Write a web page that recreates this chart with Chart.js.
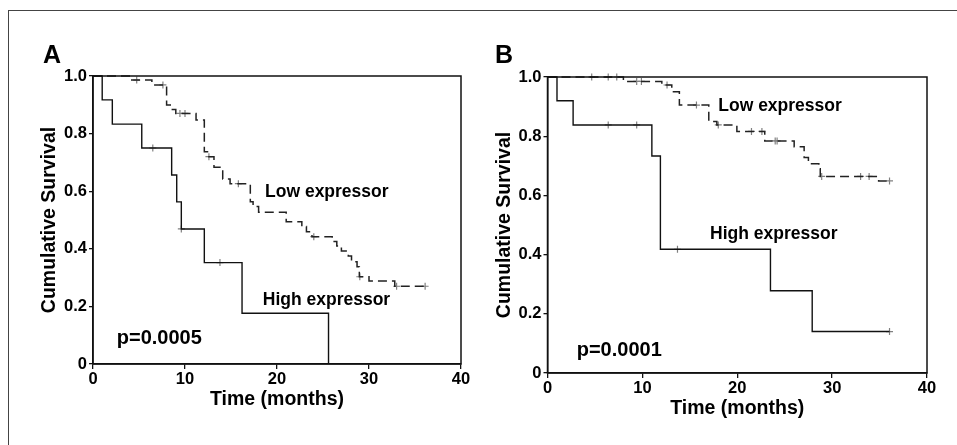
<!DOCTYPE html>
<html>
<head>
<meta charset="UTF-8">
<title>Cumulative Survival - Low vs High expressor</title>
<script src="https://cdn.jsdelivr.net/npm/chart.js"></script>
<style>
  body { margin: 0; background: white; }
  .page { position: relative; width: 957px; height: 445px; overflow: hidden; background: white; }
  .frame-top { position: absolute; left: 8px; top: 10px; width: 949px; border-top: 1.5px solid #444; }
  .frame-left { position: absolute; left: 8px; top: 10px; height: 435px; border-left: 1.5px solid #444; }
  .panel { position: absolute; top: 0; }
  #panelA { left: 0; }
  #panelB { left: 480px; }
</style>
</head>
<body>
<div class="page">
  <div class="frame-top"></div>
  <div class="frame-left"></div>
  <div class="panel" id="panelA"><canvas id="chartA" width="480" height="445"></canvas></div>
  <div class="panel" id="panelB"><canvas id="chartB" width="477" height="445"></canvas></div>
</div>
<script>
// ---- values ----
const xTickValues = [0, 10, 20, 30, 40];
const yTickValues = [0, 0.2, 0.4, 0.6, 0.8, 1.0];
const yTickLabels = ['0', '0.2', '0.4', '0.6', '0.8', '1.0'];

// Panel A, high expressor (solid line)
const aHighTimes = [0, 1.0, 2.1, 5.3, 8.55, 9.1, 9.6, 12.1, 16.2, 25.6];
const aHighSurv = [1.0, 0.917, 0.833, 0.75, 0.656, 0.563, 0.469, 0.352, 0.176, 0];
const aHighCensored = [6.5, 9.6, 13.8];

// Panel A, low expressor (dashed line)
const aLowTimes = [0, 4.1, 6.4, 8.0, 8.4, 9.0, 11.2, 12.1, 12.6, 13.15, 14.1, 14.9, 17.1, 17.4, 18.0,
  21.0, 22.7, 23.2, 23.8, 26.0, 26.5, 27.0, 27.75, 28.1, 28.7, 28.95, 30.0, 32.8, 36.1];
const aLowSurv = [1.0, 0.986, 0.969, 0.899, 0.884, 0.870, 0.847, 0.737, 0.72, 0.683, 0.642, 0.626, 0.563, 0.547, 0.527,
  0.494, 0.477, 0.459, 0.442, 0.425, 0.41, 0.392, 0.375, 0.355, 0.338, 0.303, 0.288, 0.27, 0.27];
const aLowCensored = [4.75, 7.6, 9.45, 10.0, 12.6, 15.8, 24.0, 29.0, 33.0, 36.1];

// Panel B, high expressor (solid line)
const bHighTimes = [0, 1.0, 2.7, 11.0, 11.9, 23.5, 27.9, 36.05];
const bHighSurv = [1.0, 0.92, 0.838, 0.733, 0.418, 0.278, 0.14, 0.14];
const bHighCensored = [6.4, 9.4, 13.7, 36.05];

// Panel B, low expressor (dashed line)
const bLowTimes = [0, 8.0, 12.05, 13.1, 13.9, 17.0, 17.85, 19.96, 22.9, 26.0, 27.05, 27.5, 28.6, 28.75, 34.9, 36.05];
const bLowSurv = [1.0, 0.985, 0.973, 0.95, 0.905, 0.85, 0.838, 0.816, 0.784, 0.764, 0.728, 0.707, 0.69, 0.664, 0.649, 0.649];
const bLowCensored = [4.66, 6.4, 7.3, 9.4, 9.9, 12.6, 15.7, 18.0, 21.5, 22.6, 24.0, 24.2, 28.9, 33.0, 33.9, 36.05];

// ---- helpers ----
function toPoints(times, surv) {
  return times.map((t, i) => ({ x: t, y: surv[i] }));
}

// survival level of a step curve at time t (used to put censor marks on the curve)
function survivalAt(times, surv, t) {
  let s = surv[0];
  for (let i = 0; i < times.length; i++) {
    if (times[i] <= t) s = surv[i];
  }
  return s;
}

function censorPoints(times, surv, censored) {
  return censored.map(t => ({ x: t, y: survivalAt(times, surv, t) }));
}

const labelFamily = '"Liberation Sans", Arial, sans-serif';
const tickFont = { family: labelFamily, size: 16.5, weight: 'bold' };
const titleFont = { family: labelFamily, size: 19.5, weight: 'bold' };

// draws the closed box round the plot and the free text labels
const panelDecor = {
  id: 'panelDecor',
  afterDraw(chart, args, opts) {
    const ctx = chart.ctx;
    const area = chart.chartArea;
    ctx.save();
    ctx.strokeStyle = '#111';
    ctx.lineWidth = 1.5;
    ctx.strokeRect(area.left, area.top, area.right - area.left, area.bottom - area.top);

    ctx.fillStyle = '#000';
    ctx.textAlign = 'left';
    ctx.textBaseline = 'alphabetic';
    ctx.font = 'bold 25px ' + labelFamily;
    ctx.fillText(opts.letter, opts.letterX, 63);

    ctx.textBaseline = 'middle';
    (opts.labels || []).forEach(l => {
      ctx.font = 'bold ' + l.size + 'px ' + labelFamily;
      ctx.fillText(l.text, chart.scales.x.getPixelForValue(l.x), chart.scales.y.getPixelForValue(l.y));
    });
    ctx.restore();
  }
};

function makeChart(canvasId, cfg) {
  return new Chart(document.getElementById(canvasId), {
    type: 'line',
    data: {
      datasets: [
        {
          label: 'High expressor',
          data: toPoints(cfg.highTimes, cfg.highSurv),
          stepped: 'before',
          borderColor: '#111',
          borderWidth: 1.4,
          pointRadius: 0,
          fill: false,
          clip: 4
        },
        {
          label: 'Low expressor',
          data: toPoints(cfg.lowTimes, cfg.lowSurv),
          stepped: 'before',
          borderColor: '#222',
          borderWidth: 1.5,
          borderDash: [9, 5],
          pointRadius: 0,
          fill: false,
          clip: 4
        },
        {
          type: 'scatter',
          label: 'censored',
          data: censorPoints(cfg.highTimes, cfg.highSurv, cfg.highCensored)
            .concat(censorPoints(cfg.lowTimes, cfg.lowSurv, cfg.lowCensored)),
          pointStyle: 'cross',
          pointRadius: 3.5,
          borderColor: '#808080',
          borderWidth: 1.2,
          clip: 6
        }
      ]
    },
    options: {
      responsive: false,
      animation: false,
      layout: { padding: cfg.padding },
      scales: {
        x: {
          type: 'linear',
          min: 0,
          max: 40,
          afterBuildTicks: s => { s.ticks = xTickValues.map(v => ({ value: v })); },
          afterFit: s => { s.height = cfg.xHeight; },
          grid: { drawOnChartArea: false, drawTicks: true, tickLength: 5, color: '#111', lineWidth: 1.3 },
          border: { color: '#111', width: 1.5 },
          ticks: { color: '#000', font: tickFont, padding: 1, maxRotation: 0 },
          title: { display: true, text: 'Time (months)', color: '#000', font: titleFont,
                   padding: { top: 0, bottom: cfg.xTitlePad } }
        },
        y: {
          min: 0,
          max: 1,
          afterBuildTicks: s => { s.ticks = yTickValues.map(v => ({ value: v })); },
          afterFit: s => { s.width = cfg.yWidth; },
          grid: { drawOnChartArea: false, drawTicks: true, tickLength: 4, color: '#111', lineWidth: 1.3 },
          border: { color: '#111', width: 1.5 },
          ticks: { color: '#000', font: tickFont, padding: 2, callback: (v, i) => yTickLabels[i] },
          title: { display: true, text: 'Cumulative Survival', color: '#000', font: titleFont,
                   padding: { top: cfg.yTitlePad, bottom: 0 } }
        }
      },
      plugins: {
        legend: { display: false },
        tooltip: { enabled: false },
        panelDecor: { letter: cfg.letter, letterX: cfg.letterX, labels: cfg.labels }
      }
    },
    plugins: [panelDecor]
  });
}

makeChart('chartA', {
  highTimes: aHighTimes, highSurv: aHighSurv, highCensored: aHighCensored,
  lowTimes: aLowTimes, lowSurv: aLowSurv, lowCensored: aLowCensored,
  padding: { left: 0, top: 76, right: 19, bottom: 0 },
  xHeight: 81, yWidth: 93, xTitlePad: 34, yTitlePad: 38,
  letter: 'A', letterX: 43,
  labels: [
    { text: 'Low expressor', x: 18.7, y: 0.595, size: 17.5 },
    { text: 'High expressor', x: 18.45, y: 0.222, size: 17.5 },
    { text: 'p=0.0005', x: 2.58, y: 0.089, size: 20 }
  ]
});

makeChart('chartB', {
  highTimes: bHighTimes, highSurv: bHighSurv, highCensored: bHighCensored,
  lowTimes: bLowTimes, lowSurv: bLowSurv, lowCensored: bLowCensored,
  padding: { left: 0, top: 77, right: 30, bottom: 0 },
  xHeight: 72, yWidth: 67.5, xTitlePad: 25, yTitlePad: 13,
  letter: 'B', letterX: 15,
  labels: [
    { text: 'Low expressor', x: 18.0, y: 0.90, size: 17.5 },
    { text: 'High expressor', x: 17.14, y: 0.47, size: 17.5 },
    { text: 'p=0.0001', x: 3.08, y: 0.076, size: 20 }
  ]
});
</script>
</body>
</html>
